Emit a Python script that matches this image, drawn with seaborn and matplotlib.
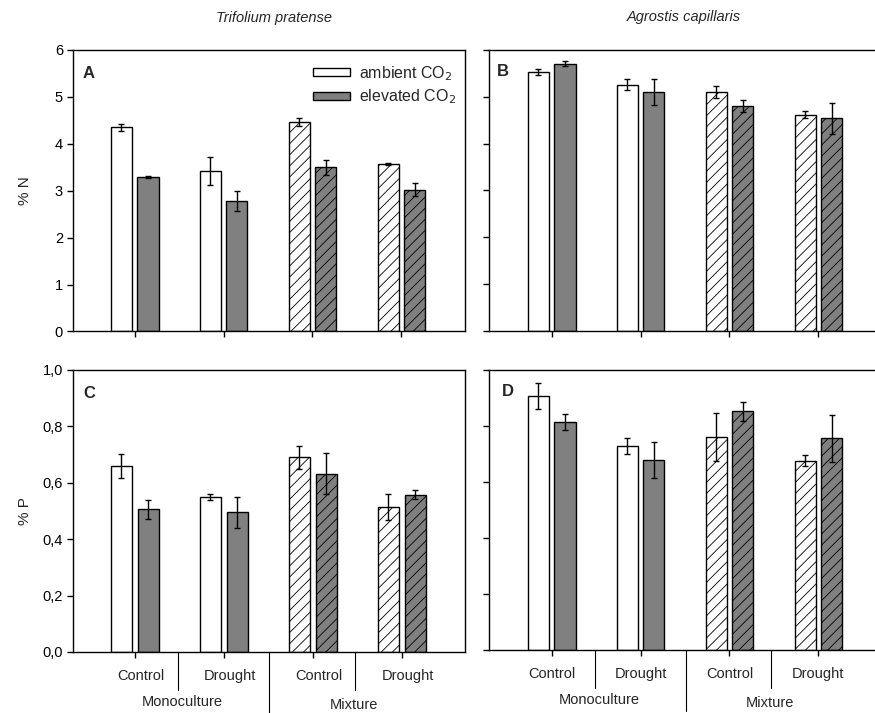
import numpy as np
import pandas as pd
import matplotlib
matplotlib.use("Agg")
import matplotlib.pyplot as plt
from matplotlib.patches import Patch
from matplotlib.ticker import FuncFormatter
import seaborn as sns

# treatment groups (soil x water) and CO2 levels
treatments = ["Monoculture Control", "Monoculture Drought", "Mixture Control", "Mixture Drought"]
co2_levels = ["ambient", "elevated"]
water_labels = ["Control", "Drought", "Control", "Drought"]
culture_labels = ["Monoculture", "Mixture"]

# % N, Trifolium pratense (panel A)
n_trif_amb = [4.35, 3.42, 4.47, 3.57]
n_trif_amb_se = [0.07, 0.29, 0.08, 0.02]
n_trif_elev = [3.29, 2.78, 3.50, 3.02]
n_trif_elev_se = [0.02, 0.21, 0.16, 0.14]

# % N, Agrostis capillaris (panel B)
n_agro_amb = [5.53, 5.26, 5.10, 4.62]
n_agro_amb_se = [0.07, 0.12, 0.13, 0.08]
n_agro_elev = [5.71, 5.10, 4.81, 4.54]
n_agro_elev_se = [0.05, 0.28, 0.13, 0.33]

# % P, Trifolium pratense (panel C)
p_trif_amb = [0.659, 0.550, 0.690, 0.514]
p_trif_amb_se = [0.043, 0.010, 0.040, 0.046]
p_trif_elev = [0.506, 0.495, 0.632, 0.558]
p_trif_elev_se = [0.034, 0.056, 0.073, 0.015]

# % P, Agrostis capillaris (panel D)
p_agro_amb = [0.906, 0.729, 0.760, 0.676]
p_agro_amb_se = [0.046, 0.028, 0.086, 0.019]
p_agro_elev = [0.813, 0.678, 0.852, 0.756]
p_agro_elev_se = [0.029, 0.063, 0.033, 0.084]

colors = {"ambient": "white", "elevated": "#808080"}

sns.set_style("ticks")
plt.rcParams["font.family"] = ["Liberation Sans", "DejaVu Sans"]
plt.rcParams["hatch.linewidth"] = 0.6
plt.rcParams["axes.linewidth"] = 1.0


def draw_panel(ax, amb, amb_se, elev, elev_se, xmin):
    df = pd.DataFrame({
        "treatment": treatments * 2,
        "co2": ["ambient"] * 4 + ["elevated"] * 4,
        "value": amb + elev,
    })
    sns.barplot(data=df, x="treatment", y="value", hue="co2", order=treatments,
                hue_order=co2_levels, palette=colors, width=0.6, gap=0.21,
                edgecolor="black", linewidth=1.0, errorbar=None, legend=False, ax=ax)
    bar_sets = list(ax.containers[:2])
    for bars, se in zip(bar_sets, [amb_se, elev_se]):
        xs = [b.get_x() + b.get_width() / 2 for b in bars]
        ys = [b.get_height() for b in bars]
        ax.errorbar(xs, ys, yerr=se, fmt="none", ecolor="black", elinewidth=1,
                    capsize=2.5, capthick=1)
        for b, t in zip(bars, treatments):
            if t.startswith("Mixture"):
                b.set_hatch("///")
    ax.set_xlim(xmin, xmin + 4.4)
    ax.set_xlabel("")
    ax.set_ylabel("")
    ax.set_xticks(range(4))
    ax.set_xticklabels([])
    ax.tick_params(direction="out", length=4, width=1, labelsize=10.5, colors="black")
    for s in ax.spines.values():
        s.set_visible(True)
        s.set_color("black")


def group_labels(ax, shift):
    tr = ax.get_xaxis_transform()
    for i, lab in enumerate(water_labels):
        ax.text(i + shift, -0.085, lab, transform=tr, ha="center", va="center", fontsize=10.5)
    ax.text(0.53, -0.178, culture_labels[0], transform=tr, ha="center", va="center", fontsize=10.5)
    ax.text(2.46, -0.188, culture_labels[1], transform=tr, ha="center", va="center", fontsize=10.5)
    for xs, y_end in [(0.49, -0.135), (1.51, -0.218), (2.47, -0.135)]:
        ax.plot([xs, xs], [0, y_end], transform=tr, color="black", lw=0.8, clip_on=False)


fig = plt.figure(figsize=(8.75, 7.13), dpi=100)
ax_a = fig.add_axes([0.0838, 0.5351, 0.4471, 0.3948])
ax_b = fig.add_axes([0.5583, 0.5358, 0.4471, 0.3941])
ax_c = fig.add_axes([0.0838, 0.0856, 0.4477, 0.3955])
ax_d = fig.add_axes([0.5583, 0.0884, 0.4471, 0.3927])

draw_panel(ax_a, n_trif_amb, n_trif_amb_se, n_trif_elev, n_trif_elev_se, -0.69)
draw_panel(ax_b, n_agro_amb, n_agro_amb_se, n_agro_elev, n_agro_elev_se, -0.71)
draw_panel(ax_c, p_trif_amb, p_trif_amb_se, p_trif_elev, p_trif_elev_se, -0.69)
draw_panel(ax_d, p_agro_amb, p_agro_amb_se, p_agro_elev, p_agro_elev_se, -0.71)

comma = FuncFormatter(lambda v, pos: f"{v:.1f}".replace(".", ","))
for ax in (ax_a, ax_b):
    ax.set_ylim(0, 6)
    ax.set_yticks(range(7))
for ax in (ax_c, ax_d):
    ax.set_ylim(0, 1.0)
    ax.set_yticks(np.arange(0, 1.01, 0.2))
    ax.yaxis.set_major_formatter(comma)
for ax in (ax_b, ax_d):
    ax.set_yticklabels([])

ax_a.set_ylabel("% N", fontsize=11)
ax_c.set_ylabel("% P", fontsize=11)
ax_a.yaxis.set_label_coords(-0.105, 0.5)
ax_c.yaxis.set_label_coords(-0.105, 0.5)

for ax, letter, x, y in [(ax_a, "A", 0.038, 0.918), (ax_b, "B", 0.036, 0.923),
                         (ax_c, "C", 0.04, 0.918), (ax_d, "D", 0.05, 0.922)]:
    ax.text(x, y, letter, transform=ax.transAxes, ha="center", va="center",
            fontsize=12, fontweight="bold")

handles = [Patch(facecolor=colors[c], edgecolor="black", linewidth=1.0) for c in co2_levels]
ax_a.legend(handles, ["ambient CO$_2$", "elevated CO$_2$"], loc="upper left",
            bbox_to_anchor=(0.613, 0.95), frameon=False, fontsize=11.5,
            handlelength=2.3, handleheight=0.4, handletextpad=0.6,
            labelspacing=0.3, borderpad=0, borderaxespad=0)

group_labels(ax_c, 0.07)
group_labels(ax_d, 0.0)

fig.text(0.313, 0.975, "Trifolium pratense", ha="center", va="center", fontsize=10.5, style="italic")
fig.text(0.782, 0.976, "Agrostis capillaris", ha="center", va="center", fontsize=10.5, style="italic")

fig.savefig("out.png", dpi=100)
